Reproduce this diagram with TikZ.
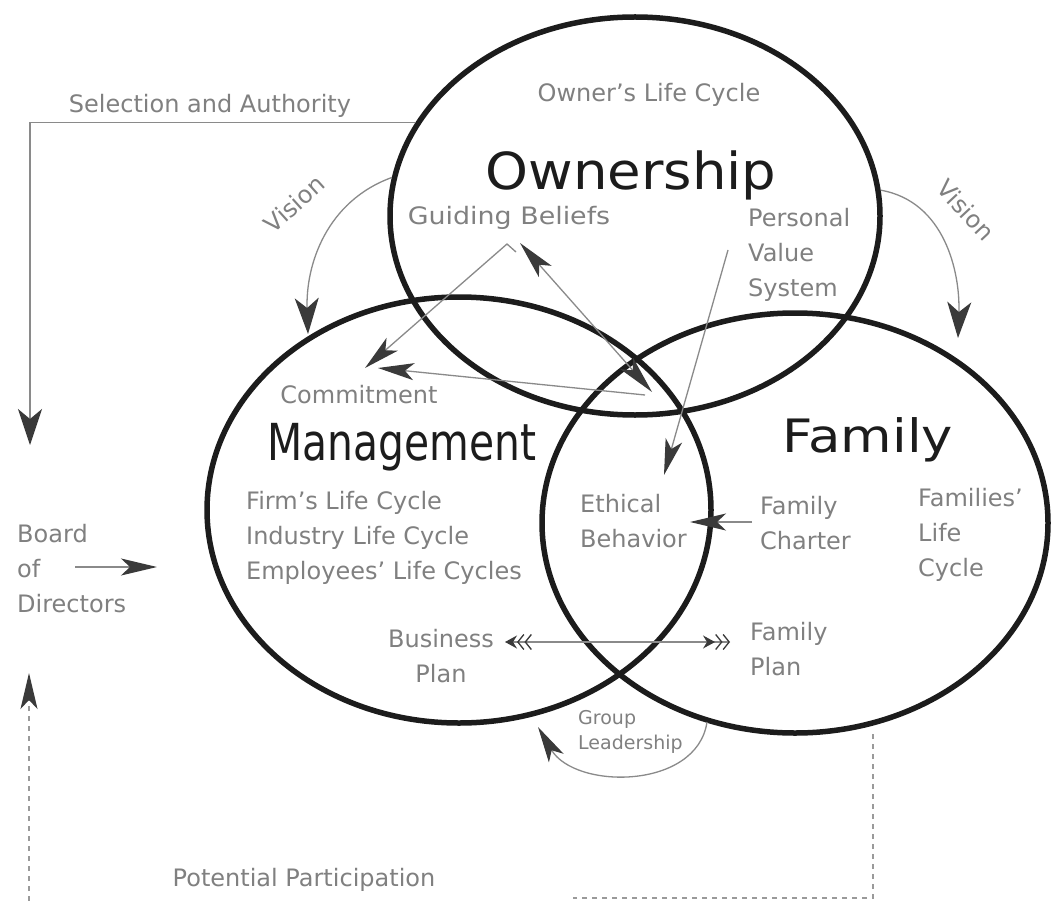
\documentclass[tikz,border=0pt]{standalone}
\usepackage{fontspec}
\usepackage{graphicx}
\setmainfont{DejaVu Sans}
\usetikzlibrary{arrows.meta,shapes.geometric}
\definecolor{ringink}{HTML}{1C1C1C}
\definecolor{inkgray}{HTML}{808080}
\definecolor{linegray}{HTML}{8A8A8A}
\definecolor{tipgray}{HTML}{3A3A3A}
\definecolor{dashgray}{HTML}{9A9A9A}
\tikzset{
  ring/.style={draw=ringink, line width=5.5pt, ellipse, inner sep=0pt},
  lbl/.style={text=inkgray, font=\fontsize{24}{35}\selectfont, inner sep=0pt, align=left},
  smalllbl/.style={text=inkgray, font=\fontsize{19}{25}\selectfont, inner sep=0pt, align=left},
  title/.style={text=ringink, inner sep=0pt},
  link/.style={draw=linegray, line width=1.3pt},
  headed/.style={-{Stealth[length=36pt,width=17pt,inset=9pt,color=tipgray]}},
  wideheaded/.style={-{Stealth[length=36pt,width=24pt,inset=10pt,color=tipgray]}},
  bothheaded/.style={{Stealth[length=38pt,width=17pt,inset=9pt,color=tipgray]}-{Stealth[length=38pt,width=17pt,inset=9pt,color=tipgray]}},
  fletched/.style={{Stealth[length=12pt,width=13pt,inset=4pt,color=tipgray]Straight Barb[length=6pt,width=15pt,color=tipgray]Straight Barb[length=6pt,width=15pt,color=tipgray]}-{Stealth[length=12pt,width=13pt,inset=4pt,color=tipgray]Straight Barb[length=6pt,width=15pt,color=tipgray]Straight Barb[length=6pt,width=15pt,color=tipgray]}},
  dashline/.style={draw=dashgray, line width=1.3pt, dash pattern=on 5pt off 5pt}
}
\begin{document}
\begin{tikzpicture}[x=1pt, y=-1pt]
  \useasboundingbox[fill=white] (0,0) rectangle (1051,901);

  \node[ring, minimum width=490pt, minimum height=398pt] (own) at (635,216) {};
  \node[ring, minimum width=504pt, minimum height=426pt] (mgmt) at (459,510) {};
  \node[ring, minimum width=506pt, minimum height=420pt] (fam) at (795,523) {};

  \node[lbl] (selection) at (210,106) {Selection and Authority};
  \node[lbl] (ownerlc) at (649,95) {Owner’s Life Cycle};
  \node[title, font=\fontsize{51}{51}\selectfont] (ownership) at (631,175) {\scalebox{1.07}[1]{Ownership}};
  \node[lbl] (guiding) at (509,218) {\scalebox{1.12}[1]{Guiding Beliefs}};
  \node[lbl, anchor=north west] (personal) at (748,208) {Personal\\Value\\System};
  \node[lbl] (commitment) at (359,395) {Commitment};
  \node[title, font=\fontsize{51}{51}\selectfont] (management) at (402,447) {\scalebox{0.8}[1]{Management}};
  \node[lbl, anchor=north west] (cycles) at (246,491) {Firm’s Life Cycle\\Industry Life Cycle\\Employees’ Life Cycles};
  \node[title, font=\fontsize{46}{46}\selectfont] (family) at (868,440) {\scalebox{1.15}[1]{Family}};
  \node[lbl, anchor=north west] (ethical) at (580,494) {Ethical\\Behavior};
  \node[lbl, anchor=north west] (charter) at (760,496) {Family\\Charter};
  \node[lbl, anchor=north west] (famlc) at (918,488) {Families’\\Life\\Cycle};
  \node[lbl, anchor=north west] (board) at (17,524) {Board\\of\\Directors};
  \node[lbl, anchor=north, align=center] (bizplan) at (441,629) {Business\\Plan};
  \node[lbl, anchor=north west] (famplan) at (750,622) {Family\\Plan};
  \node[smalllbl, anchor=north west] (group) at (578,710) {Group\\Leadership};
  \node[lbl] (potential) at (304,880) {Potential Participation};
  \node[lbl, rotate=42] (visionl) at (294,204) {Vision};
  \node[lbl, rotate=-47] (visionr) at (966,210) {Vision};

  \coordinate (seltip) at (30,445);
  \coordinate (vistipl) at (308,334);
  \coordinate (vistipr) at (958,338);
  \coordinate (gbknee) at (516,252);
  \coordinate (gbapex) at (507,244);
  \coordinate (cmtipa) at (365,368);
  \coordinate (core) at (645,395);
  \coordinate (cmtipb) at (378,368);
  \coordinate (gbtip) at (520,243);
  \coordinate (coretip) at (652,392);
  \coordinate (pvstart) at (728,250);
  \coordinate (ebtipa) at (664,475);
  \coordinate (fcstart) at (752,522);
  \coordinate (ebtipb) at (690,522);
  \coordinate (bptip) at (505,642);
  \coordinate (fptip) at (730,642);
  \coordinate (glstart) at (707,722);
  \coordinate (gltip) at (538,727);
  \coordinate (bodstart) at (75,567);
  \coordinate (bodtip) at (157,567);
  \coordinate (ppfoot) at (29,901);
  \coordinate (pptip) at (29,673);
  \coordinate (pptop) at (873,734);
  \coordinate (ppcorner) at (873,898);
  \coordinate (ppend) at (573,898);

  \draw[link, wideheaded] (own.157) -| (seltip);
  \draw[link, wideheaded] (own.171) to[out=200, in=92] (vistipl);
  \draw[link, wideheaded] (own.6) to[out=-10, in=88] (vistipr);
  \draw[link, headed] (gbknee) -- (gbapex) -- (cmtipa);
  \draw[link, headed] (core) -- (cmtipb);
  \draw[link, bothheaded] (gbtip) -- (coretip);
  \draw[link, headed] (pvstart) -- (ebtipa);
  \draw[link, headed] (fcstart) -- (ebtipb);
  \draw[link, fletched] (bptip) -- (fptip);
  \draw[link, headed] (glstart) .. controls (697,790) and (575,790) .. (gltip);
  \draw[link, headed] (bodstart) -- (bodtip);
  \draw[dashline, headed] (ppfoot) -- (pptip);
  \draw[dashline] (pptop) -- (ppcorner) -- (ppend);
\end{tikzpicture}
\end{document}
